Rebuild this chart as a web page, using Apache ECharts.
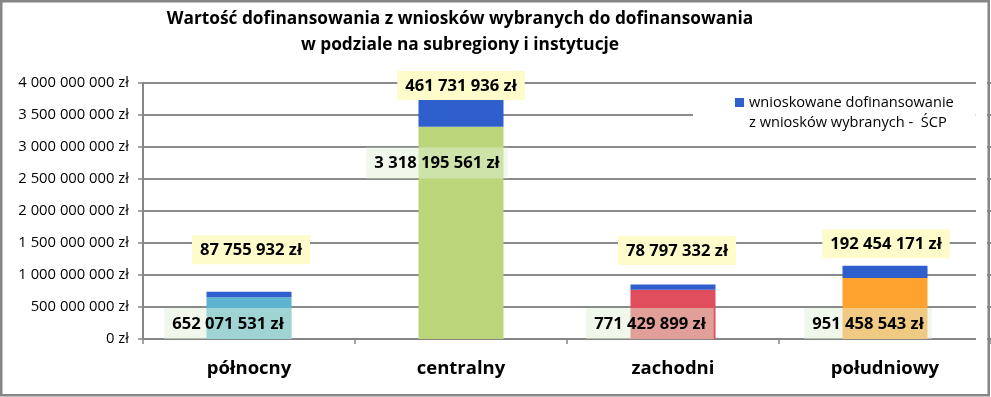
<!DOCTYPE html>
<html><head><meta charset="utf-8">
<script src="https://cdn.jsdelivr.net/npm/echarts@6/dist/echarts.min.js"></script>
<style>html,body{margin:0;padding:0;background:#fff}#c{width:991px;height:397px}</style>
</head><body><div id="c"></div>
<script>
// ---- data ----
const categories = ['północny', 'centralny', 'zachodni', 'południowy'];
const mainValues = [652071531, 3318195561, 771429899, 951458543];
const requestedValues = [87755932, 461731936, 78797332, 192454171];
const yMin = 0, yMax = 4000000000, yStep = 500000000;
const titleText = 'Wartość dofinansowania z wniosków wybranych do dofinansowania\nw podziale na subregiony i instytucje';
const legendName = 'wnioskowane dofinansowanie z wniosków wybranych -  ŚCP';

// ---- styles ----
const mainColors = ['#5cb4d0', '#bbd57b', '#e04d5c', '#ffa22e'];
const blueColor = '#2f5fcc';
const mainLabelOffsets = [[-21, 0], [-24, -160.5], [-23, 0], [-17, 0]];
const topLabelOffsets = [[2, -27.5], [0, 3], [4, -19.5], [1, -7.5]];
const FONT = "'Open Sans', sans-serif";
const GRAY = '#868686';

function fmt(v) { return String(Math.round(v)).replace(/\B(?=(\d{3})+(?!\d))/g, ' ') + ' zł'; }

const chart = echarts.init(document.getElementById('c'), null, { renderer: 'canvas' });
const baseLabel = { show: true, fontFamily: FONT, fontWeight: 'bold', fontSize: 16.6, color: '#000', lineHeight: 20, formatter: p => fmt(p.value) };

chart.setOption({
  animation: false,
  backgroundColor: '#fff',
  title: {
    text: titleText, left: 455, top: 1, textAlign: 'center', padding: 5,
    textStyle: { fontFamily: FONT, fontWeight: 'bold', fontSize: 17.3, color: '#000', lineHeight: 26 }
  },
  legend: {
    data: [legendName], left: 693, top: 87.5, orient: 'vertical',
    padding: [5, 22, 5, 42], backgroundColor: '#fff', selectedMode: false,
    itemWidth: 9, itemHeight: 29, icon: 'path://M0,0L9,0L9,9L0,9Z M0,29L9,29',
    formatter: n => n.replace(' z wniosków', '\nz wniosków'),
    textStyle: { fontFamily: FONT, fontSize: 14.6, color: '#000', lineHeight: 20 }
  },
  grid: { left: 143, right: 0, top: 83, bottom: 58, containLabel: false, outerBoundsMode: 'none' },
  xAxis: {
    type: 'category', data: categories,
    axisLine: { show: true, lineStyle: { color: GRAY, width: 2 } },
    axisTick: { show: true, length: 5, alignWithLabel: false, interval: 0, lineStyle: { color: GRAY, width: 1.5 } },
    axisLabel: { fontFamily: FONT, fontWeight: 'bold', fontSize: 18.5, color: '#000', margin: 20, interval: 0 },
    splitLine: { show: false }
  },
  yAxis: {
    type: 'value', min: yMin, max: yMax, interval: yStep,
    axisLine: { show: true, lineStyle: { color: GRAY, width: 2 } },
    axisTick: { show: true, length: 5, lineStyle: { color: GRAY, width: 1.5 } },
    axisLabel: { formatter: v => fmt(v), fontFamily: FONT, fontSize: 14.8, color: '#000', margin: 14, showMinLabel: true, showMaxLabel: true },
    splitLine: { show: true, lineStyle: { color: '#8a8a8a', width: 2 } }
  },
  series: [
    {
      name: 'main', type: 'bar', stack: 'total', barWidth: 85,
      data: mainValues.map((v, i) => ({ value: v, itemStyle: { color: mainColors[i] }, label: { offset: mainLabelOffsets[i] } })),
      label: Object.assign({}, baseLabel, { position: 'insideBottom', distance: 0, backgroundColor: 'rgba(225,242,215,0.5)', padding: [6, 8, 5, 8] }),
      emphasis: { disabled: true }
    },
    {
      name: legendName, type: 'bar', stack: 'total', barWidth: 85, itemStyle: { color: blueColor },
      data: requestedValues.map((v, i) => ({ value: v, label: { offset: topLabelOffsets[i] } })),
      label: Object.assign({}, baseLabel, { position: 'top', distance: 0, backgroundColor: '#fdfcca', padding: [5, 8, 4, 8] }),
      emphasis: { disabled: true }
    }
  ],
  graphic: [
    { type: 'rect', z: 1, silent: true, shape: { x: 976, y: 75, width: 11, height: 268 }, style: { fill: '#fff' } },
    { type: 'rect', z: 100, silent: true, shape: { x: 1.25, y: 1.25, width: 987.5, height: 394 }, style: { fill: 'none', stroke: GRAY, lineWidth: 2.5 } }
  ]
});
</script></body></html>
